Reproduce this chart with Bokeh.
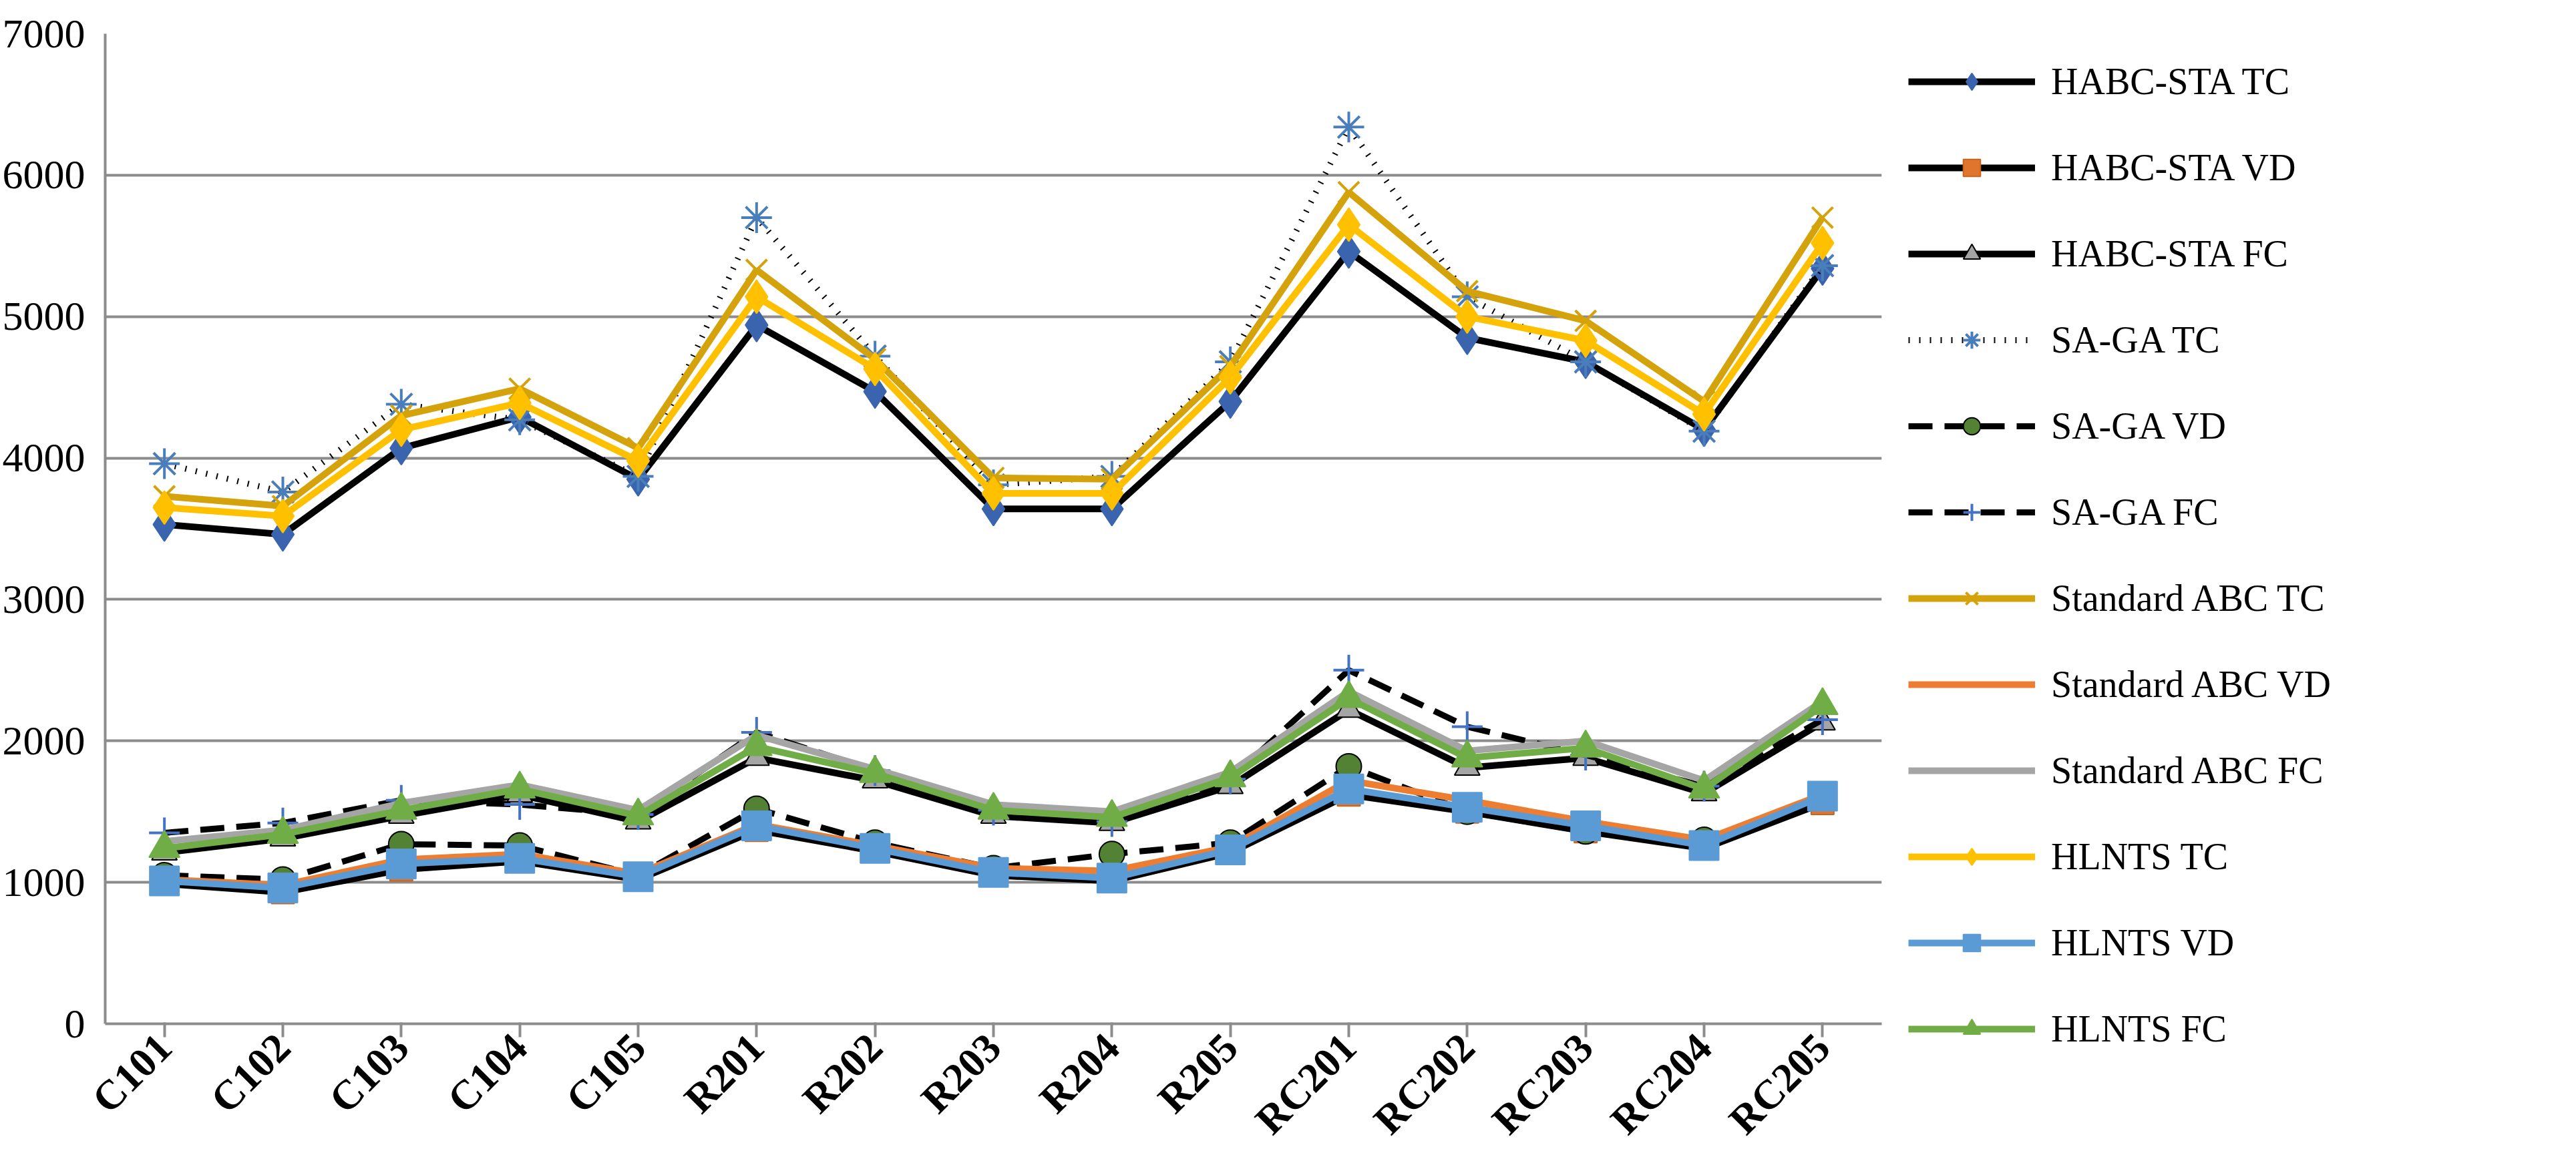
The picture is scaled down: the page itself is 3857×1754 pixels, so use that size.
from bokeh.plotting import figure
from bokeh.models import Legend, LegendItem, FixedTicker
from bokeh.embed import file_html
from bokeh.resources import INLINE

cats = ["C101","C102","C103","C104","C105","R201","R202","R203","R204","R205","RC201","RC202","RC203","RC204","RC205"]

habc_tc = [3530,3460,4070,4290,3850,4940,4470,3640,3640,4400,5460,4850,4680,4200,5340]
habc_vd = [990,930,1090,1150,1020,1370,1220,1050,1010,1210,1620,1500,1360,1240,1560]
habc_fc = [1210,1310,1470,1620,1430,1880,1720,1470,1420,1680,2220,1810,1880,1630,2130]
saga_tc = [3960,3760,4380,4270,3870,5700,4720,3810,3870,4680,6340,5140,4680,4190,5360]
saga_vd = [1050,1020,1270,1260,1050,1520,1280,1100,1200,1280,1820,1500,1360,1300,1600]
saga_fc = [1350,1420,1580,1550,1480,2060,1790,1510,1430,1730,2500,2100,1900,1680,2150]
std_tc = [3730,3660,4300,4490,4070,5330,4700,3860,3850,4650,5880,5180,4970,4400,5700]
std_vd = [1020,980,1160,1200,1060,1410,1260,1100,1080,1250,1720,1580,1430,1300,1620]
std_fc = [1290,1370,1560,1690,1510,2040,1800,1550,1500,1780,2350,1930,2000,1720,2280]
hl_tc = [3650,3590,4200,4390,3980,5140,4630,3750,3750,4570,5650,5000,4830,4310,5520]
hl_vd = [1010,960,1130,1170,1040,1400,1240,1070,1030,1230,1660,1530,1400,1260,1610]
hl_fc = [1240,1340,1510,1660,1470,1960,1770,1510,1460,1740,2300,1880,1950,1660,2250]

FONT = "Liberation Serif"
p = figure(width=3840, height=1738, x_range=cats, y_range=(0, 7000),
           output_backend="svg", toolbar_location=None,
           min_border_left=150, min_border_top=50, min_border_bottom=200, min_border_right=0)
p.outline_line_color = None
p.xgrid.grid_line_color = None
p.ygrid.grid_line_color = "#8c8c8c"
p.ygrid.grid_line_width = 4
p.yaxis.ticker = FixedTicker(ticks=list(range(0, 7001, 1000)))
for ax in (p.xaxis[0], p.yaxis[0]):
    ax.axis_line_color = "#8c8c8c"
    ax.axis_line_width = 4
    ax.major_tick_line_color = "#8c8c8c"
    ax.major_tick_line_width = 4
    ax.minor_tick_line_color = None
    ax.major_label_text_font = FONT
    ax.major_label_text_font_size = "62px"
    ax.major_label_text_color = "black"
p.yaxis.major_tick_out = 0
p.yaxis.major_tick_in = 0
p.yaxis.major_label_standoff = 30
p.xaxis.major_tick_out = 20
p.xaxis.major_label_orientation = 0.785
p.xaxis.major_label_text_font_style = "bold"

LW = 10
series = [
    ("HABC-STA TC", habc_tc, "black", "solid", "diamond", "#3A64AE", "#3A64AE", 50),
    ("HABC-STA VD", habc_vd, "black", "solid", "square", "#E0752D", "#C5651F", 34),
    ("HABC-STA FC", habc_fc, "black", "solid", "triangle", "#A5A5A5", "black", 38),
    ("SA-GA TC", saga_tc, "black", "dotted", "asterisk", "#4A7EBB", "#4A7EBB", 46),
    ("SA-GA VD", saga_vd, "black", "dashed", "circle", "#548235", "black", 38),
    ("SA-GA FC", saga_fc, "black", "dashed", "cross", "#4472C4", "#4472C4", 46),
    ("Standard ABC TC", std_tc, "#D4A20A", "solid", "x", "#D4A20A", "#D4A20A", 44),
    ("Standard ABC VD", std_vd, "#ED7D31", "solid", None, None, None, 0),
    ("Standard ABC FC", std_fc, "#A5A5A5", "solid", None, None, None, 0),
    ("HLNTS TC", hl_tc, "#FFC000", "solid", "diamond", "#FFC000", "#FFC000", 50),
    ("HLNTS VD", hl_vd, "#5B9BD5", "solid", "square", "#5B9BD5", "#5B9BD5", 44),
    ("HLNTS FC", hl_fc, "#70AD47", "solid", "triangle", "#70AD47", "#70AD47", 46),
]
items = []
for name, vals, lc, dash, mk, fc, mc, ms in series:
    dashv = {"solid": "solid", "dotted": "2 14", "dashed": "36 18"}[dash]
    rs = [p.line(cats, vals, line_color=lc, line_width=LW if dash == "solid" else 9, line_dash=dashv)]
    if mk:
        rs.append(p.scatter(cats, vals, marker=mk, size=ms, fill_color=fc, line_color=mc,
                            line_width=4 if mk in ("asterisk", "cross", "x") else 2))
    items.append(LegendItem(label=name, renderers=rs))

leg = Legend(items=items, location="top_left")
leg.label_text_font = FONT
leg.label_text_font_size = "56px"
leg.label_text_color = "black"
leg.glyph_width = 190
leg.glyph_height = 64
leg.spacing = 65
leg.label_standoff = 24
leg.border_line_color = None
leg.padding = 10
leg.margin = 40
p.add_layout(leg, "right")

open("out.html", "w").write(file_html(p, INLINE))
